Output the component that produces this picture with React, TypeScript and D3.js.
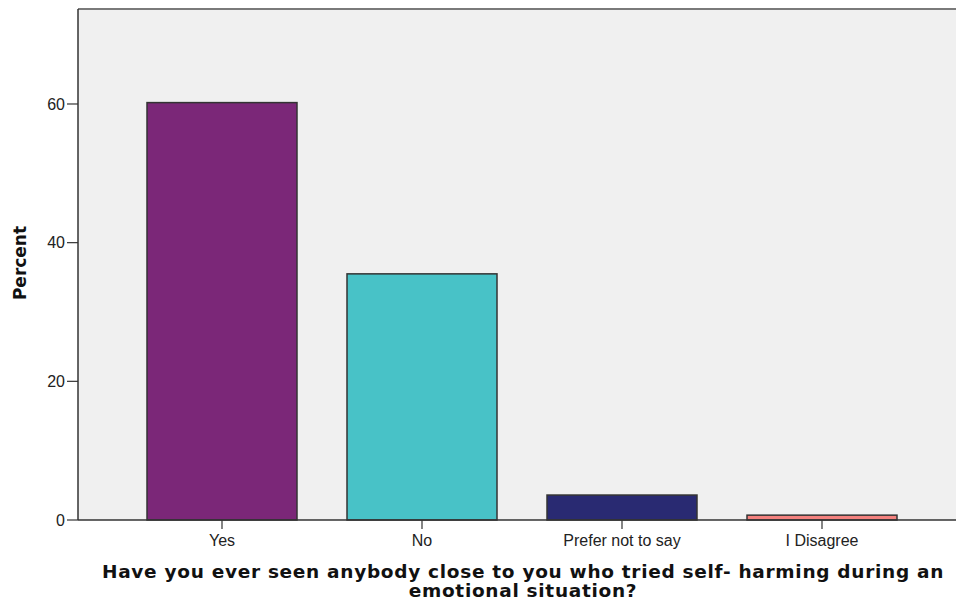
import React from "react";
import * as d3 from "d3";

const categories = ["Yes", "No", "Prefer not to say", "I Disagree"];
const percents = [60.2, 35.5, 3.6, 0.7];
const colors = ["#7b2778", "#48c2c7", "#292a72", "#f4817e"];
const yTicks = [0, 20, 40, 60];
const yLabel = "Percent";
const titleLines = [
  "Have you ever seen anybody close to you who tried self- harming during an",
  "emotional situation?",
];

const W = 956;
const H = 602;
const plotLeft = 78;
const plotTop = 9;
const plotBottom = 520;
const plotRight = 970;

export default function App() {
  const y = d3.scaleLinear().domain([0, 73.7]).range([plotBottom, plotTop]);
  const x = d3
    .scaleBand<string>()
    .domain(categories)
    .range([122, 922])
    .paddingInner(0.25)
    .paddingOuter(0.125);

  const sans = "'Liberation Sans', Arial, sans-serif";
  const bold = "'DejaVu Sans', Verdana, sans-serif";

  return (
    <svg
      width={W}
      height={H}
      style={{ position: "absolute", left: 0, top: 0, background: "#fff" }}
    >
      <rect x={0} y={0} width={W} height={H} fill="#fff" />
      <rect
        x={plotLeft}
        y={plotTop}
        width={plotRight - plotLeft}
        height={plotBottom - plotTop}
        fill="#f0f0f0"
      />
      <line x1={plotLeft} x2={plotRight} y1={plotTop} y2={plotTop} stroke="#7a7a7a" strokeWidth={2} />
      {categories.map((c, i) => (
        <rect
          key={c}
          x={x(c)!}
          y={y(percents[i])}
          width={x.bandwidth()}
          height={plotBottom - y(percents[i])}
          fill={colors[i]}
          stroke="#333"
          strokeWidth={1.5}
        />
      ))}
      <line x1={plotLeft} x2={plotLeft} y1={plotTop} y2={plotBottom} stroke="#333" strokeWidth={1.5} />
      <line x1={plotLeft} x2={plotRight} y1={plotBottom} y2={plotBottom} stroke="#333" strokeWidth={1.5} />
      {yTicks.map((t) => (
        <g key={t}>
          <line x1={plotLeft - 11} x2={plotLeft} y1={y(t)} y2={y(t)} stroke="#333" strokeWidth={1.2} />
          <text
            x={plotLeft - 13}
            y={y(t)}
            dy="0.36em"
            textAnchor="end"
            fontFamily={sans}
            fontSize={16}
            fill="#222"
          >
            {t}
          </text>
        </g>
      ))}
      {categories.map((c) => {
        const cx = x(c)! + x.bandwidth() / 2;
        return (
          <g key={c}>
            <line x1={cx} x2={cx} y1={plotBottom} y2={plotBottom + 9} stroke="#333" strokeWidth={1.2} />
            <text
              x={cx}
              y={546}
              textAnchor="middle"
              fontFamily={sans}
              fontSize={16}
              fill="#222"
            >
              {c}
            </text>
          </g>
        );
      })}
      <text
        transform={`translate(26, 263) rotate(-90)`}
        textAnchor="middle"
        fontFamily={bold}
        fontSize={17}
        fontWeight="bold"
        fill="#111"
      >
        {yLabel}
      </text>
      {titleLines.map((l, i) => (
        <text
          key={i}
          x={523}
          y={578 + i * 19}
          textAnchor="middle"
          fontFamily={bold}
          fontSize={18.5}
          fontWeight="bold"
          letterSpacing={0.7}
          fill="#111"
        >
          {l}
        </text>
      ))}
    </svg>
  );
}
